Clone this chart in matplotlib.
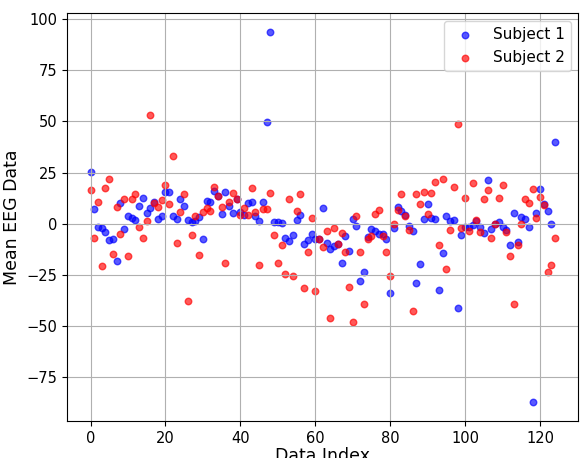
import numpy as np
import matplotlib
matplotlib.use("Agg")
import matplotlib.pyplot as plt

# mean EEG values per data index
subject1 = [25.5, 7.2, -1.6, -1.8, -3.9, -7.8, -7.5, -18.0, 10.2, -2.3,
            3.6, 2.9, 2.1, 8.9, 12.4, 5.4, 7.6, 10.6, 2.4, 3.7,
            15.4, 15.6, 3.7, 2.6, 11.9, 8.6, 2.0, 1.0, 1.5, 3.3,
            -7.5, 11.1, 10.9, 16.1, 13.5, 5.0, 15.8, 8.6, 5.2, 11.9,
            6.0, 4.1, 10.1, 10.6, 3.7, 1.6, 10.9, 49.9, 93.8, 0.8,
            1.0, 0.3, -6.7, -8.3, -5.5, 2.0, 4.4, -9.6, -8.0, -4.9,
            -7.3, -7.6, 7.6, -9.3, -12.4, -10.9, -9.8, -19.0, -5.7, -13.5,
            2.3, -1.1, -28.0, -23.7, -6.5, -2.4, -3.3, -4.9, -5.0, -7.6,
            -33.7, -1.8, 8.3, 6.2, 4.2, -1.1, -3.6, -29.1, -19.5, 2.6,
            9.6, 3.1, 2.6, -32.5, -14.3, 3.9, 1.6, 2.1, -41.0, -5.5,
            -1.5, -1.3, -0.8, 1.3, -1.3, -4.4, 21.3, -2.4, 0.0, 1.0,
            -1.5, -2.8, -10.1, 5.4, -8.9, 3.3, 2.4, -1.5, -87.2, 5.4,
            17.2, 9.6, 6.2, -0.3, 39.8]

subject2 = [16.7, -6.8, 10.6, -20.5, 17.4, 22.0, -14.8, 8.3, -5.2, 11.9,
            -15.8, 12.2, 14.6, -1.6, -7.0, 1.6, 53.0, 10.2, 8.3, 11.7,
            18.9, 9.8, 33.3, -9.3, 6.0, 14.5, -37.9, -5.4, 3.7, -15.0,
            6.0, 7.8, 6.3, 17.9, 13.5, 8.3, -19.2, 10.7, 15.3, 11.9,
            4.4, 7.8, 4.1, 17.4, 5.7, -20.0, 7.3, 7.2, 15.3, -5.5,
            -19.3, -10.4, -24.7, 11.9, -25.7, 6.3, 14.6, -31.2, -13.8, 3.1,
            -33.0, -7.6, -11.4, -3.6, -46.0, -2.1, -9.9, -4.6, -13.7, -30.7,
            -48.1, 3.9, -13.7, -39.0, -7.6, -5.7, 4.9, 6.8, -6.0, -13.8,
            -25.5, 0.0, 7.0, 14.6, 3.9, -2.8, -42.8, 14.5, 9.6, 15.6,
            4.6, 15.3, 20.3, -10.4, 22.0, -22.0, -3.1, 17.9, 48.8, -1.8,
            12.5, -3.6, 19.8, 1.8, -3.9, 12.2, 16.7, -6.7, -0.3, 12.7,
            19.0, -4.2, -15.8, -39.0, -10.4, 0.0, 11.9, 10.4, 16.9, 2.8,
            13.2, 9.1, -23.4, -20.3, -7.0]

idx = np.arange(len(subject1))

fig = plt.figure(figsize=(5.8, 4.58), dpi=100)
ax = fig.add_axes([0.116, 0.081, 0.881, 0.89])

ax.scatter(idx, subject1, s=22, color='blue', alpha=0.65, label='Subject 1')
ax.scatter(idx, subject2, s=22, color='red', alpha=0.65, label='Subject 2')

ax.set_xlabel('Data Index', fontsize=12.5, labelpad=1)
ax.set_ylabel('Mean EEG Data', fontsize=12.5)
ax.tick_params(labelsize=10.5)
ax.grid(True)
ax.legend(fontsize=11, loc='upper right')

fig.savefig('out.png', dpi=100)
